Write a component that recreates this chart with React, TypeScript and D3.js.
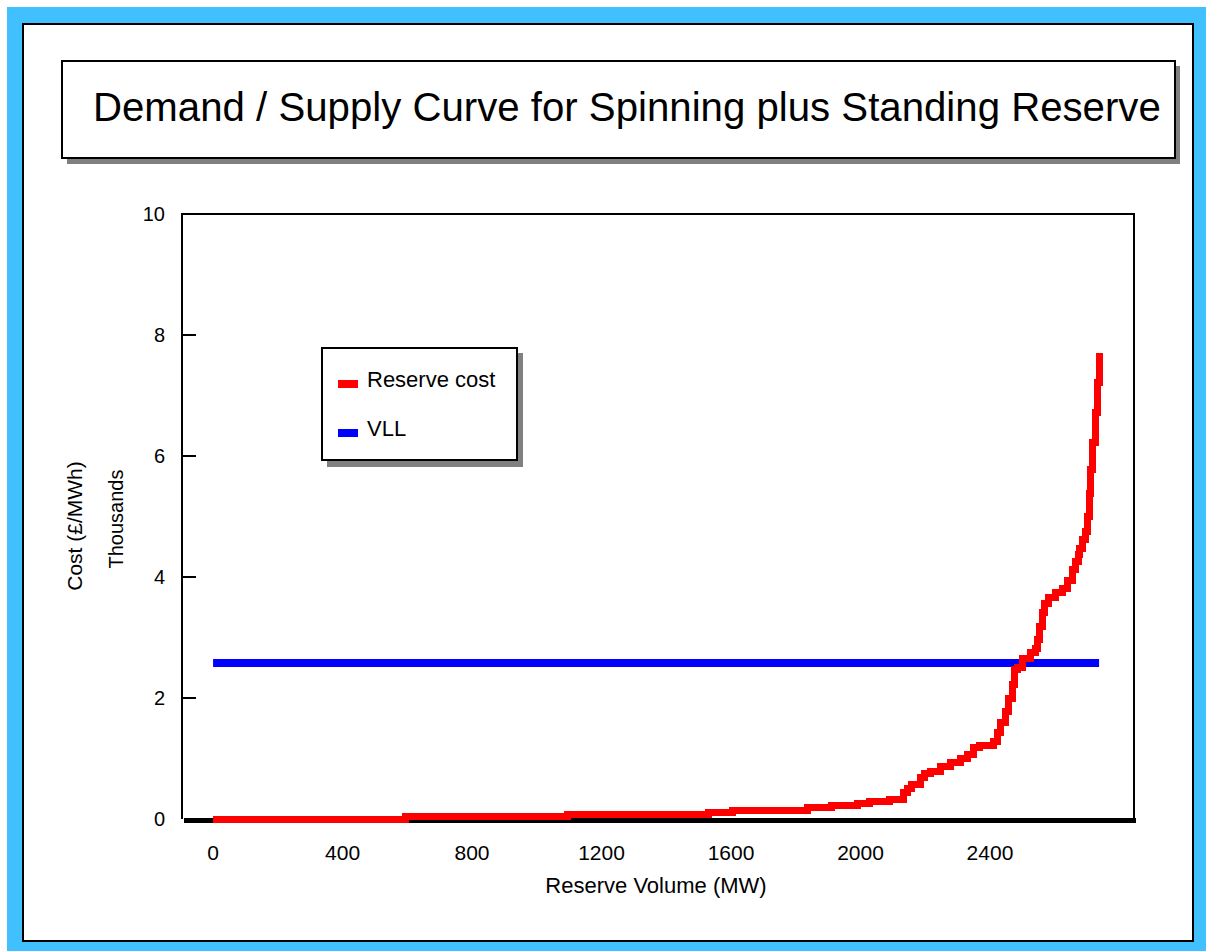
import React from "react";
import * as d3 from "d3";

// Reserve supply curve: cumulative volume (MW) vs marginal cost (£/MWh, thousands)
const reserveVolume = [
  0, 593, 1094, 1532, 1606, 1835, 1909, 1990, 2027, 2091, 2132,
  2144, 2159, 2184, 2199, 2215, 2246, 2277, 2308, 2332, 2348, 2369,
  2410, 2422, 2434, 2447, 2456, 2471, 2477, 2484, 2502, 2524, 2542,
  2546, 2552, 2561, 2567, 2580, 2601, 2623, 2638, 2654, 2663, 2672,
  2678, 2685, 2694, 2700, 2706, 2712, 2718, 2725, 2731, 2737,
];
const reserveCost = [
  0, 0.041, 0.074, 0.107, 0.14, 0.182, 0.223, 0.256, 0.289, 0.322, 0.43,
  0.496, 0.562, 0.678, 0.76, 0.793, 0.86, 0.942, 0.992, 1.058, 1.174, 1.223,
  1.273, 1.438, 1.587, 1.769, 2.0, 2.215, 2.463, 2.512, 2.661, 2.744, 2.826,
  2.959, 3.174, 3.405, 3.57, 3.653, 3.736, 3.818, 3.95, 4.116, 4.248, 4.364,
  4.463, 4.612, 4.744, 5.008, 5.372, 5.769, 6.215, 6.727, 7.223, 7.7,
];

// Value of lost load (thousand £/MWh), drawn across the whole volume range
const vllVolume = [0, 2737];
const vllCost = [2.58, 2.58];

const xTicks = [0, 400, 800, 1200, 1600, 2000, 2400];
const yTicks = [0, 2, 4, 6, 8, 10];

const seriesNames = ["Reserve cost", "VLL"];
const seriesColors = ["#ff0000", "#0000ff"];

const FONT = "Arial, 'Liberation Sans', sans-serif";

export default function App() {
  const W = 1206;
  const H = 951;
  const plot = { left: 182, right: 1135, top: 214, bottom: 819 };

  const x = d3.scaleLinear().domain([-96, 2848]).range([plot.left, plot.right]);
  const y = d3.scaleLinear().domain([0, 10]).range([plot.bottom, plot.top]);

  const costLine = d3
    .line<number>()
    .x((_, i) => x(reserveVolume[i]))
    .y((d) => y(d))
    .curve(d3.curveStepAfter);

  const vllLine = d3
    .line<number>()
    .x((_, i) => x(vllVolume[i]))
    .y((d) => y(d));

  return (
    <svg
      width={W}
      height={H}
      style={{ position: "absolute", left: 0, top: 0, display: "block" }}
      fontFamily={FONT}
    >
      <rect x={0} y={0} width={W} height={H} fill="#ffffff" />
      {/* outer blue frame */}
      <rect x={7} y={7} width={W - 7} height={H - 7} fill="#40c0ff" />
      <rect x={23} y={24} width={1170} height={917} fill="#ffffff" stroke="#000" strokeWidth={2} />

      {/* title box with drop shadow */}
      <rect x={67} y={66} width={1113} height={98} fill="#808080" />
      <rect x={62} y={61} width={1113} height={97} fill="#ffffff" stroke="#000" strokeWidth={2} />
      <text x={93} y={121} fontSize={40.2} fill="#000">
        Demand / Supply Curve for Spinning plus Standing Reserve
      </text>

      {/* plot frame */}
      <path
        d={`M${plot.left},${plot.bottom} V${plot.top} H${plot.right - 1} V${plot.bottom}`}
        fill="none"
        stroke="#000"
        strokeWidth={2}
      />
      {yTicks.slice(1).map((t) => (
        <line key={t} x1={plot.left} x2={plot.left + 14} y1={y(t)} y2={y(t)} stroke="#000" strokeWidth={2} />
      ))}
      {/* zero line */}
      <line x1={plot.left + 2} x2={plot.right + 1} y1={y(0) + 1.5} y2={y(0) + 1.5} stroke="#000" strokeWidth={5} />

      {/* y tick labels */}
      {yTicks.map((t) => (
        <text key={t} x={165} y={y(t) + 7} fontSize={20} textAnchor="end" fill="#000">
          {t}
        </text>
      ))}
      {/* x tick labels */}
      {xTicks.map((t) => (
        <text key={t} x={x(t)} y={860} fontSize={21} textAnchor="middle" fill="#000">
          {t}
        </text>
      ))}

      {/* axis titles */}
      <text x={656} y={893} fontSize={22} textAnchor="middle" fill="#000">
        Reserve Volume (MW)
      </text>
      <text transform="translate(82,526) rotate(-90)" fontSize={21} textAnchor="middle" fill="#000">
        Cost (£/MWh)
      </text>
      <text transform="translate(123,519) rotate(-90)" fontSize={20} textAnchor="middle" fill="#000">
        Thousands
      </text>

      {/* series */}
      <path d={vllLine(vllCost) ?? ""} fill="none" stroke={seriesColors[1]} strokeWidth={8} />
      <path
        d={costLine(reserveCost) ?? ""}
        fill="none"
        stroke={seriesColors[0]}
        strokeWidth={7}
        strokeLinejoin="miter"
        shapeRendering="crispEdges"
      />

      {/* legend */}
      <rect x={327} y={353} width={196} height={114} fill="#808080" />
      <rect x={322} y={348} width={195} height={112} fill="#ffffff" stroke="#000" strokeWidth={2} />
      {seriesNames.map((name, i) => (
        <g key={name} transform={`translate(338,${380 + i * 49})`}>
          <rect x={0} y={0} width={20} height={8} fill={seriesColors[i]} />
          <text x={29} y={7} fontSize={22} fill="#000">
            {name}
          </text>
        </g>
      ))}
    </svg>
  );
}
